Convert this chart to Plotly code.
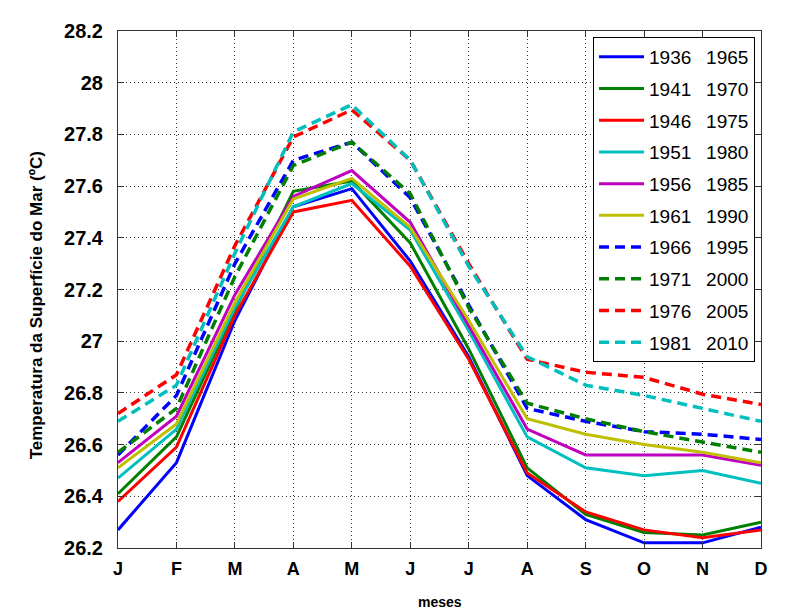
import plotly.graph_objects as go

months = [1, 2, 3, 4, 5, 6, 7, 8, 9, 10, 11, 12]
month_labels = ["J", "F", "M", "A", "M", "J", "J", "A", "S", "O", "N", "D"]

series_names = ["1936\u2002 1965", "1941\u2002 1970", "1946\u2002 1975", "1951\u2002 1980",
                "1956\u2002 1985", "1961\u2002 1990", "1966\u2002 1995", "1971\u2002 2000",
                "1976\u2002 2005", "1981\u2002 2010"]

s1936 = [26.27, 26.53, 27.08, 27.52, 27.59, 27.31, 26.94, 26.48, 26.31, 26.22, 26.22, 26.28]
s1941 = [26.41, 26.63, 27.12, 27.58, 27.62, 27.38, 26.97, 26.51, 26.33, 26.26, 26.25, 26.30]
s1946 = [26.38, 26.59, 27.10, 27.50, 27.545, 27.29, 26.93, 26.49, 26.34, 26.27, 26.24, 26.27]
s1951 = [26.47, 26.66, 27.13, 27.52, 27.61, 27.43, 27.04, 26.63, 26.51, 26.48, 26.50, 26.45]
s1956 = [26.53, 26.71, 27.18, 27.56, 27.66, 27.46, 27.06, 26.66, 26.56, 26.56, 26.56, 26.52]
s1961 = [26.51, 26.68, 27.15, 27.55, 27.63, 27.44, 27.08, 26.70, 26.64, 26.60, 26.57, 26.53]
s1966 = [26.56, 26.79, 27.30, 27.70, 27.77, 27.555, 27.14, 26.74, 26.69, 26.65, 26.64, 26.62]
s1971 = [26.57, 26.74, 27.25, 27.68, 27.77, 27.57, 27.13, 26.76, 26.70, 26.65, 26.61, 26.57]
s1976 = [26.72, 26.87, 27.37, 27.79, 27.895, 27.70, 27.30, 26.93, 26.88, 26.86, 26.795, 26.755]
s1981 = [26.69, 26.83, 27.34, 27.81, 27.915, 27.70, 27.29, 26.94, 26.83, 26.79, 26.74, 26.69]

all_series = [s1936, s1941, s1946, s1951, s1956, s1961, s1966, s1971, s1976, s1981]
colors = ["#0000ff", "#008000", "#ff0000", "#00bfbf", "#bf00bf", "#bfbf00",
          "#0000ff", "#008000", "#ff0000", "#00bfbf"]
dashed = [False] * 6 + [True] * 4

y_ticks = [26.2, 26.4, 26.6, 26.8, 27.0, 27.2, 27.4, 27.6, 27.8, 28.0, 28.2]
y_tick_text = ["26.2", "26.4", "26.6", "26.8", "27", "27.2", "27.4", "27.6", "27.8", "28", "28.2"]

FONT = "Liberation Sans, Arial, Helvetica, sans-serif"

fig = go.Figure()
for i, (name, ys) in enumerate(zip(series_names, all_series)):
    fig.add_trace(go.Scatter(
        x=months, y=ys, mode="lines", name=name, legendgroup=f"g{i}",
        line=dict(color=colors[i], width=3.5 if dashed[i] else 3,
                  dash="10px,6px" if dashed[i] else "solid"),
    ))

fig.update_layout(
    width=798, height=614,
    margin=dict(l=110, r=45, t=21, b=74),
    paper_bgcolor="white", plot_bgcolor="white",
    font=dict(family=FONT, color="black"),
    showlegend=True,
    legend=dict(
        x=0.9907, y=0.9884, xanchor="right", yanchor="top",
        bgcolor="white", bordercolor="black", borderwidth=1,
        font=dict(family=FONT, size=19, color="black"),
        tracegroupgap=4, itemwidth=45,
    ),
    xaxis=dict(
        range=[1, 12], tickmode="array", tickvals=months, ticktext=month_labels,
        tickfont=dict(family=FONT, size=18, weight="bold"),
        showgrid=True, gridcolor="#333333", griddash="1px,3px", gridwidth=1,
        showline=True, linecolor="#333333", linewidth=1, mirror="ticks",
        ticks="inside", ticklen=6, tickcolor="#333333",
        ticklabelstandoff=4, zeroline=False,
    ),
    yaxis=dict(
        range=[26.2, 28.2], tickmode="array", tickvals=y_ticks, ticktext=y_tick_text,
        tickfont=dict(family=FONT, size=20, weight="bold"),
        showgrid=True, gridcolor="#333333", griddash="1px,3px", gridwidth=1,
        showline=True, linecolor="#333333", linewidth=1, mirror="ticks",
        ticks="inside", ticklen=6, tickcolor="#333333",
        ticklabelstandoff=10, zeroline=False,
    ),
    annotations=[
        dict(text="meses", xref="paper", yref="paper", x=0.5, y=-0.104,
             xanchor="center", yanchor="middle", showarrow=False,
             font=dict(family=FONT, size=14, weight="bold")),
        dict(text="Temperatura da Superfície do Mar (ºC)", xref="paper", yref="paper",
             x=-0.127, y=0.47, xanchor="center", yanchor="middle", textangle=-90,
             showarrow=False, font=dict(family=FONT, size=17, weight="bold")),
    ],
)

fig.write_html("out.html")
